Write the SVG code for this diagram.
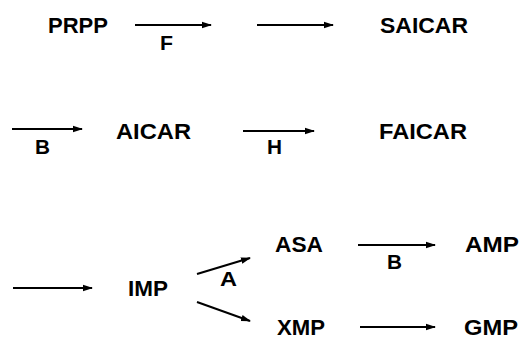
<svg xmlns="http://www.w3.org/2000/svg" width="520" height="348" viewBox="0 0 520 348">
<defs>
<marker id="ah" markerWidth="11" markerHeight="8" refX="9" refY="4" orient="auto" markerUnits="userSpaceOnUse">
<path d="M0,0.8 L10,4 L0,7.2 Z" fill="#000"/>
</marker>
<style>
.t{font-family:"Liberation Sans",Arial,sans-serif;font-weight:bold;font-size:21.5px;fill:#000}
.l{font-family:"Liberation Sans",Arial,sans-serif;font-weight:bold;font-size:20px;fill:#000}
.c{stroke:#000;stroke-width:2;fill:none;marker-end:url(#ah)}
</style>
</defs>
<rect width="520" height="348" fill="#fff"/>
<g id="PRPP"><text class="t" x="48" y="33" textLength="60" lengthAdjust="spacingAndGlyphs">PRPP</text></g>
<g id="SAICAR"><text class="t" x="380" y="33" textLength="88" lengthAdjust="spacingAndGlyphs">SAICAR</text></g>
<g id="AICAR"><text class="t" x="116" y="139" textLength="75" lengthAdjust="spacingAndGlyphs">AICAR</text></g>
<g id="FAICAR"><text class="t" x="379" y="139" textLength="88" lengthAdjust="spacingAndGlyphs">FAICAR</text></g>
<g id="IMP"><text class="t" x="128" y="296" textLength="40" lengthAdjust="spacingAndGlyphs">IMP</text></g>
<g id="ASA"><text class="t" x="275" y="252" textLength="48" lengthAdjust="spacingAndGlyphs">ASA</text></g>
<g id="AMP"><text class="t" x="465" y="252" textLength="54" lengthAdjust="spacingAndGlyphs">AMP</text></g>
<g id="XMP"><text class="t" x="277" y="335" textLength="48" lengthAdjust="spacingAndGlyphs">XMP</text></g>
<g id="GMP"><text class="t" x="464" y="335" textLength="54" lengthAdjust="spacingAndGlyphs">GMP</text></g>
<g id="connectors">
<line class="c" x1="135" y1="25" x2="211" y2="25"/>
<line class="c" x1="257" y1="25" x2="333" y2="25"/>
<line class="c" x1="12" y1="129" x2="82" y2="129"/>
<line class="c" x1="243" y1="131" x2="314" y2="131"/>
<line class="c" x1="13" y1="288" x2="92" y2="288"/>
<line class="c" x1="197" y1="274" x2="250" y2="258"/>
<line class="c" x1="197" y1="302" x2="250" y2="321"/>
<line class="c" x1="358" y1="245" x2="435" y2="245"/>
<line class="c" x1="360" y1="327" x2="435" y2="327"/>
<text class="l" x="160" y="50" textLength="13" lengthAdjust="spacingAndGlyphs">F</text>
<text class="l" x="35" y="154" textLength="15" lengthAdjust="spacingAndGlyphs">B</text>
<text class="l" x="267" y="154" textLength="15" lengthAdjust="spacingAndGlyphs">H</text>
<text class="l" x="220" y="286" textLength="17" lengthAdjust="spacingAndGlyphs">A</text>
<text class="l" x="387" y="269" textLength="15" lengthAdjust="spacingAndGlyphs">B</text>
</g>
</svg>
